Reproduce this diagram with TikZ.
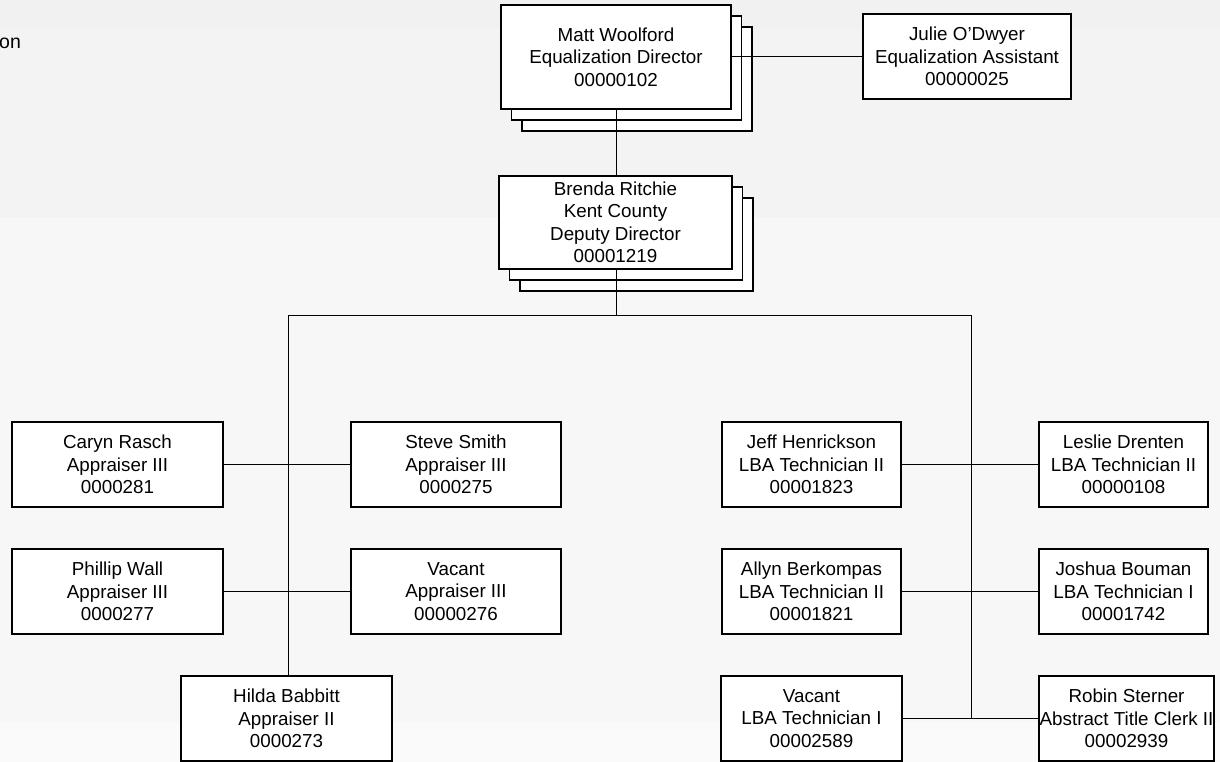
\documentclass[tikz,border=0pt]{standalone}
\usepackage{fontspec}
\setmainfont{Liberation Sans}
\definecolor{bandA}{HTML}{F1F1F1}
\definecolor{bandB}{HTML}{F3F3F3}
\definecolor{bandC}{HTML}{F7F7F7}
\definecolor{bandD}{HTML}{FAFAFA}
\begin{document}
\begin{tikzpicture}[x=1pt,y=-1pt,
  box/.style={draw=black, line width=1.3pt, fill=white, inner sep=0pt, align=center,
    font=\fontsize{18.8}{22.5}\selectfont},
  shadowbox/.style={draw=black, line width=1.3pt, fill=white},
  link/.style={draw=black, line width=1pt}]
\useasboundingbox (0,0) rectangle (1220,762);
% background bands
\fill[bandA] (0,0) rectangle (1220,29);
\fill[bandB] (0,29) rectangle (1220,218);
\fill[bandC] (0,218) rectangle (1220,722);
\fill[bandD] (0,722) rectangle (1220,762);
% title fragment
\node[anchor=base west, inner sep=0pt, font=\fontsize{19.5}{22}\selectfont] (frag) at (-1,49) {on};
% top stack
\draw[shadowbox] (522,27) rectangle (752,131);
\draw[shadowbox] (511.5,16) rectangle (741.5,120);
\node[box, minimum width=230pt, minimum height=104pt] (matt) at (616,57)
  {Matt Woolford\\Equalization Director\\00000102};
\node[box, minimum width=208pt, minimum height=85pt] (julie) at (967,56.5)
  {Julie O’Dwyer\\Equalization Assistant\\00000025};
\draw[link] (matt.east |- julie.west) -- (julie.west);
% deputy stack
\draw[shadowbox] (520,198) rectangle (753,291);
\draw[shadowbox] (509.5,187) rectangle (742.5,280);
\node[box, minimum width=233pt, minimum height=93pt] (brenda) at (615.5,222.5)
  {Brenda Ritchie\\Kent County\\Deputy Director\\00001219};
\draw[link] (matt.south) -- (matt.south |- brenda.north);
% bus
\coordinate (bus) at (616,315);
\coordinate (lbus) at (288,315);
\coordinate (rbus) at (971.5,315);
\draw[link] (brenda.south -| bus) -- (bus);
\draw[link] (lbus) -- (rbus);
% left group
\node[box, minimum width=211pt, minimum height=85pt] (caryn) at (117.5,464.5)
  {Caryn Rasch\\Appraiser III\\0000281};
\node[box, minimum width=210pt, minimum height=85pt] (steve) at (456,464.5)
  {Steve Smith\\Appraiser III\\0000275};
\node[box, minimum width=211pt, minimum height=85pt] (phillip) at (117.5,591.5)
  {Phillip Wall\\Appraiser III\\0000277};
\node[box, minimum width=210pt, minimum height=85pt] (vacl) at (456,591.5)
  {Vacant\\Appraiser III\\00000276};
\node[box, minimum width=211pt, minimum height=85pt] (hilda) at (286.5,718.5)
  {Hilda Babbitt\\Appraiser II\\0000273};
\draw[link] (lbus) -- (lbus |- hilda.north);
\draw[link] (caryn.east) -- (steve.west);
\draw[link] (phillip.east) -- (vacl.west);
% right group
\node[box, minimum width=179pt, minimum height=85pt] (jeff) at (811.5,464.5)
  {Jeff Henrickson\\LBA Technician II\\00001823};
\node[box, minimum width=169pt, minimum height=85pt] (leslie) at (1123.5,464.5)
  {Leslie Drenten\\LBA Technician II\\00000108};
\node[box, minimum width=179pt, minimum height=85pt] (allyn) at (811.5,591.5)
  {Allyn Berkompas\\LBA Technician II\\00001821};
\node[box, minimum width=169pt, minimum height=85pt] (joshua) at (1123.5,591.5)
  {Joshua Bouman\\LBA Technician I\\00001742};
\node[box, minimum width=181pt, minimum height=85pt] (vacr) at (811.5,718.5)
  {Vacant\\LBA Technician I\\00002589};
\node[box, minimum width=175pt, minimum height=85pt] (robin) at (1126.5,718.5)
  {Robin Sterner\\Abstract Title Clerk II\\00002939};
\coordinate (rend) at (971.5,718.5);
\draw[link] (rbus) -- (rend);
\draw[link] (jeff.east) -- (leslie.west);
\draw[link] (allyn.east) -- (joshua.west);
\draw[link] (vacr.east) -- (robin.west);
\end{tikzpicture}
\end{document}
